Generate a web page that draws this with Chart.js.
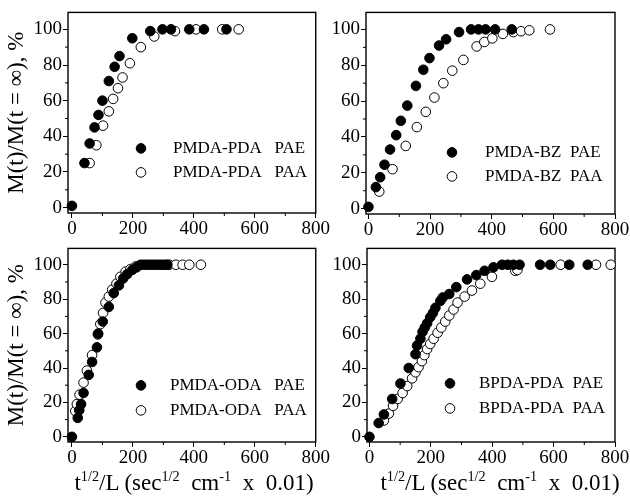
<!DOCTYPE html>
<html>
<head>
<meta charset="utf-8">
<script src="https://cdn.jsdelivr.net/npm/chart.js@4.4.0/dist/chart.umd.min.js"></script>
<style>
  body { margin: 0; background: #fff; }
  #wrap { position: relative; width: 630px; height: 498px; overflow: hidden; background: #fff; }
  canvas { position: absolute; }
  .xtitle {
    position: absolute; top: 470px; line-height: 26px;
    font-family: "Liberation Serif", serif; font-size: 23px;
    white-space: pre; transform: translateX(-50%); color: #000;
  }
  .xtitle sup { font-size: 62%; vertical-align: 0.6em; line-height: 0; }
</style>
</head>
<body>
<div id="wrap">
  <canvas id="tl" width="330" height="236" style="left:0;top:0"></canvas>
  <canvas id="tr" width="300" height="236" style="left:330px;top:0"></canvas>
  <canvas id="bl" width="330" height="262" style="left:0;top:236px"></canvas>
  <canvas id="br" width="300" height="262" style="left:330px;top:236px"></canvas>
  <div class="xtitle" style="left:194px">t<sup>1/2</sup>/L (sec<sup>1/2</sup>  cm<sup>-1</sup>  x  0.01)</div>
  <div class="xtitle" style="left:500px">t<sup>1/2</sup>/L (sec<sup>1/2</sup>  cm<sup>-1</sup>  x  0.01)</div>
</div>
<script>
// tick labels
const xTicks = [0, 200, 400, 600, 800];
const yTicks = [0, 20, 40, 60, 80, 100];
const yTitle = 'M(t)/M(t = \u221e), %';

// PMDA-PDA (top left)
const pmdaPdaPaeX = [0, 41, 58, 74, 87, 100, 121, 140, 156, 198, 257, 297, 325, 385, 433, 507];
const pmdaPdaPaeY = [1, 25, 36, 45, 52, 60, 71, 79, 85, 95, 99, 100, 100, 100, 100, 100];
const pmdaPdaPaaX = [58, 80, 102, 121, 135, 151, 166, 190, 226, 270, 338, 407, 493, 547];
const pmdaPdaPaaY = [25, 35, 46, 54, 61, 67, 73, 81, 90, 96, 99, 100, 100, 100];

// PMDA-BZ (top right)
const pmdaBzPaeX = [0, 24, 38, 52, 70, 90, 105, 126, 154, 178, 198, 229, 252, 294, 333, 357, 380, 411, 465];
const pmdaBzPaeY = [1, 12, 17.5, 24.5, 33, 41, 49, 57.5, 68.5, 77.5, 84, 91, 94.5, 98.5, 100, 100, 100, 100, 100];
const pmdaBzPaaX = [35, 78, 121, 157, 186, 214, 243, 272, 308, 351, 376, 402, 436, 470, 495, 522, 589];
const pmdaBzPaaY = [9.5, 22, 35, 45.5, 54, 62, 70, 77, 83, 90.5, 93, 95, 97.5, 98.5, 99, 99.5, 100];

// PMDA-ODA (bottom left)
const pmdaOdaPaeX = [0, 19, 24, 30, 38, 55, 66, 82, 86, 101, 121, 137, 154, 168, 181, 198, 212, 225, 235, 245, 255, 265, 275, 285, 295, 305, 313];
const pmdaOdaPaeY = [0, 11, 15.5, 19, 25.5, 36, 43.5, 52, 60, 67, 75.5, 83.5, 88, 92, 94.5, 97, 98.5, 100, 100, 100, 100, 100, 100, 100, 100, 100, 100];
const pmdaOdaPaaX = [11, 16, 25, 38, 49, 66, 85, 93, 102, 110, 121, 132, 146, 159, 176, 192, 209, 319, 341, 363, 385, 423];
const pmdaOdaPaaY = [15, 19, 24.5, 31.5, 38.5, 47.5, 59.5, 65.5, 72, 78, 81.5, 85.5, 89, 93, 96, 97.5, 99, 100, 100, 100, 100, 100];

// BPDA-PDA (bottom right)
const bpdaPdaPaeX = [0, 30, 47, 74, 101, 128, 150, 155, 166, 173, 180, 188, 198, 207, 215, 231, 239, 260, 283, 318, 348, 375, 404, 432, 451, 469, 489, 556, 589, 651, 711];
const bpdaPdaPaeY = [0, 8, 13, 22, 31, 40, 48, 53, 57, 61, 63.5, 66, 69.5, 72, 75, 79, 81, 83, 87, 91.5, 94, 96.5, 98.5, 100, 100, 100, 100, 100, 100, 100, 100];
const bpdaPdaPaaX = [47, 63, 77, 92, 108, 123, 139, 150, 160, 171, 179, 188, 198, 209, 222, 234, 247, 260, 274, 287, 310, 334, 361, 399, 475, 482, 623, 738, 786];
const bpdaPdaPaaY = [9.5, 13.5, 18, 22, 25.5, 29.5, 34, 37.5, 40.5, 44, 47.5, 51, 54, 57, 60.5, 63.5, 67, 70.5, 74, 78, 81.5, 85, 89, 93, 96.5, 97, 100, 100, 100];

const serif = '"Liberation Serif", "Times New Roman", serif';

function pts(xs, ys) {
    return xs.map((x, i) => ({x: x, y: ys[i]}));
}

// box round the plot area plus short minor ticks between the labelled ones
const frameAndMinor = {
    id: 'frameAndMinor',
    beforeDatasetsDraw(chart) {
        const {ctx, chartArea: a, scales} = chart;
        ctx.save();
        ctx.strokeStyle = '#000';
        ctx.lineWidth = 1;
        ['x', 'y'].forEach(id => {
            const s = scales[id];
            for (let i = 0; i < s.ticks.length - 1; i++) {
                const p = s.getPixelForValue((s.ticks[i].value + s.ticks[i + 1].value) / 2);
                ctx.beginPath();
                if (id === 'x') {
                    ctx.moveTo(p, a.bottom);
                    ctx.lineTo(p, a.bottom + 3);
                } else {
                    ctx.moveTo(a.left, p);
                    ctx.lineTo(a.left - 3, p);
                }
                ctx.stroke();
            }
        });
        ctx.lineWidth = 1.4;
        ctx.strokeRect(a.left, a.top, a.right - a.left, a.bottom - a.top);
        ctx.restore();
    }
};

// legend sitting inside the plot, one row per series
const insideLegend = {
    id: 'insideLegend',
    afterDatasetsDraw(chart, args, opts) {
        const {ctx, chartArea: a} = chart;
        ctx.save();
        ctx.font = '17px ' + serif;
        ctx.textBaseline = 'middle';
        chart.data.datasets.forEach((ds, i) => {
            const x = a.left + opts.left;
            const y = a.top + opts.top + i * opts.gap;
            ctx.fillStyle = ds.backgroundColor;
            ctx.strokeStyle = '#000';
            ctx.lineWidth = 1;
            Chart.helpers.drawPoint(ctx, {pointStyle: 'circle', radius: ds.pointRadius, borderWidth: 1, rotation: 0}, x, y);
            ctx.fillStyle = '#000';
            ctx.fillText(ds.label, x + opts.text, y);
        });
        ctx.restore();
    }
};

function makePanel(id, cfg) {
    const series = (label, xs, ys, filled) => ({
        label: label,
        data: pts(xs, ys),
        pointRadius: 4.8,
        pointHoverRadius: 4.8,
        pointBorderWidth: 1,
        borderColor: '#000',
        backgroundColor: filled ? '#000' : '#fff',
        clip: false
    });

    return new Chart(document.getElementById(id), {
        type: 'scatter',
        data: {
            datasets: [
                series(cfg.labels[0], cfg.pae[0], cfg.pae[1], true),
                series(cfg.labels[1], cfg.paa[0], cfg.paa[1], false)
            ]
        },
        options: {
            responsive: false,
            animation: false,
            devicePixelRatio: 1,
            layout: {padding: {top: cfg.padTop, right: cfg.padRight, left: 0, bottom: 0}},
            plugins: {
                legend: {display: false},
                tooltip: {enabled: false},
                insideLegend: cfg.legend
            },
            scales: {
                x: {
                    type: 'linear',
                    min: cfg.xMin,
                    max: 800,
                    afterBuildTicks: s => { s.ticks = xTicks.map(v => ({value: v})); },
                    afterFit: s => { s.height = cfg.xh; },
                    grid: {drawOnChartArea: false, drawTicks: true, tickLength: 5, color: '#000'},
                    border: {display: false},
                    ticks: {color: '#000', font: {family: serif, size: 19}, padding: 0, maxRotation: 0}
                },
                y: {
                    type: 'linear',
                    min: -3,
                    max: 109.5,
                    afterBuildTicks: s => { s.ticks = yTicks.map(v => ({value: v})); },
                    afterFit: s => { s.width = cfg.yw; },
                    grid: {drawOnChartArea: false, drawTicks: true, tickLength: 5, color: '#000'},
                    border: {display: false},
                    ticks: {color: '#000', font: {family: serif, size: 19}, padding: 1},
                    title: {
                        display: cfg.showTitle,
                        text: yTitle,
                        color: '#000',
                        font: {family: serif, size: 23},
                        padding: {top: 3, bottom: 0}
                    }
                }
            }
        },
        plugins: [frameAndMinor, insideLegend]
    });
}

makePanel('tl', {
    labels: ['PMDA-PDA   PAE', 'PMDA-PDA   PAA'],
    pae: [pmdaPdaPaeX, pmdaPdaPaeY], paa: [pmdaPdaPaaX, pmdaPdaPaaY],
    xMin: -13, yw: 68, xh: 23, padTop: 11, padRight: 14, showTitle: true,
    legend: {left: 73, top: 136, gap: 24, text: 32}
});
makePanel('tr', {
    labels: ['PMDA-BZ  PAE', 'PMDA-BZ  PAA'],
    pae: [pmdaBzPaeX, pmdaBzPaeY], paa: [pmdaBzPaaX, pmdaBzPaaY],
    xMin: -8, yw: 36, xh: 22, padTop: 9, padRight: 15, showTitle: false,
    legend: {left: 86, top: 140, gap: 24, text: 33}
});
makePanel('bl', {
    labels: ['PMDA-ODA   PAE', 'PMDA-ODA   PAA'],
    pae: [pmdaOdaPaeX, pmdaOdaPaeY], paa: [pmdaOdaPaaX, pmdaOdaPaaY],
    xMin: -13, yw: 68, xh: 56, padTop: 4, padRight: 14, showTitle: true,
    legend: {left: 73, top: 137, gap: 25, text: 29}
});
makePanel('br', {
    labels: ['BPDA-PDA  PAE', 'BPDA-PDA  PAA'],
    pae: [bpdaPdaPaeX, bpdaPdaPaeY], paa: [bpdaPdaPaaX, bpdaPdaPaaY],
    xMin: -8, yw: 37, xh: 56, padTop: 5, padRight: 15, showTitle: false,
    legend: {left: 83, top: 135, gap: 25, text: 29}
});
</script>
</body>
</html>
